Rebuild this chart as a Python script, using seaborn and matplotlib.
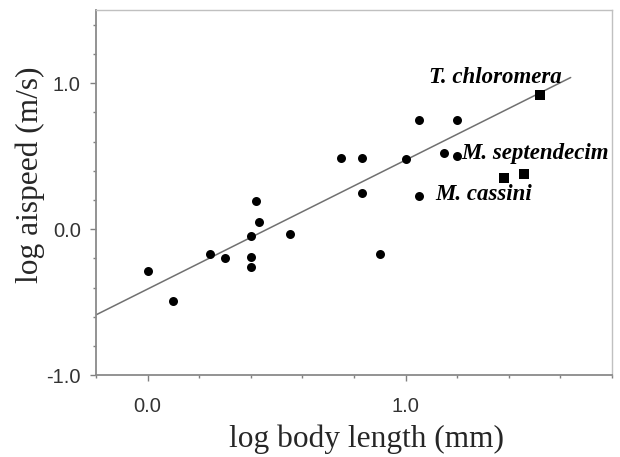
import numpy as np
import pandas as pd
import seaborn as sns
import matplotlib.pyplot as plt

# data
body_len = [0.00, 0.10, 0.24, 0.30, 0.40, 0.40, 0.40, 0.42, 0.43, 0.55,
            0.75, 0.83, 0.83, 0.90, 1.00, 1.05, 1.05, 1.20, 1.15, 1.20]
airspeed = [-0.29, -0.49, -0.17, -0.20, -0.05, -0.19, -0.26, 0.19, 0.05, -0.03,
            0.49, 0.49, 0.25, -0.17, 0.48, 0.75, 0.23, 0.75, 0.52, 0.50]

sq_len = [1.52, 1.38, 1.46]
sq_speed = [0.92, 0.35, 0.38]

# regression line
fit_slope = 0.883
fit_intercept = -0.41
fit_range = [-0.2, 1.64]

labels = ["T. chloromera", "M. septendecim", "M. cassini"]
label_x = [1.09, 1.215, 1.115]
label_y = [1.04, 0.52, 0.24]

df = pd.DataFrame({"x": body_len, "y": airspeed})
df_sq = pd.DataFrame({"x": sq_len, "y": sq_speed})

sns.set_style("white")

fig, ax = plt.subplots(figsize=(6.2, 4.57), dpi=100)
fig.subplots_adjust(left=0.155, right=0.987, top=0.978, bottom=0.179)

xl = np.array(fit_range)
ax.plot(xl, fit_intercept + fit_slope * xl, color="#707070", lw=1.1, zorder=1)

sns.scatterplot(data=df, x="x", y="y", ax=ax, color="black", s=42,
                marker="o", edgecolor="black", linewidth=0, zorder=3)
sns.scatterplot(data=df_sq, x="x", y="y", ax=ax, color="black", s=52,
                marker="s", edgecolor="black", linewidth=0, zorder=3)

for t, tx, ty in zip(labels, label_x, label_y):
    ax.text(tx, ty, t, family="Liberation Serif", style="italic", weight="bold",
            fontsize=16.5, va="center", ha="left", color="black", zorder=4)

ax.set_xlim(-0.2, 1.8)
ax.set_ylim(-1.0, 1.5)
ax.set_xticks([0.0, 1.0])
ax.set_yticks([-1.0, 0.0, 1.0])
ax.set_xticks(np.arange(-0.2, 1.81, 0.2), minor=True)
ax.set_yticks(np.arange(-1.0, 1.51, 0.2), minor=True)
ax.set_xticklabels(["0.0", "1.0"])
ax.set_yticklabels(["-1.0", "0.0", "1.0"])

ax.tick_params(axis="both", which="major", direction="out", length=4,
               width=1, color="#808080", labelsize=14.5, labelcolor="#333333",
               bottom=True, left=True)
ax.tick_params(axis="both", which="minor", direction="out", length=2.5,
               width=1, color="#808080", bottom=True, left=True)
ax.tick_params(axis="x", which="major", pad=12)
ax.tick_params(axis="y", which="major", pad=7)
for lab in ax.get_xticklabels() + ax.get_yticklabels():
    lab.set_family("Liberation Sans")

for side in ["left", "bottom"]:
    ax.spines[side].set_color("#8a8a8a")
    ax.spines[side].set_linewidth(1.3)
for side in ["top", "right"]:
    ax.spines[side].set_color("#c0c0c0")
    ax.spines[side].set_linewidth(1.0)

ax.set_xlabel("log body length (mm)", family="Liberation Serif", fontsize=22.6)
ax.set_ylabel("log aispeed (m/s)", family="Liberation Serif", fontsize=22.6)
ax.xaxis.set_label_coords(0.525, -0.135)
ax.yaxis.set_label_coords(-0.1, 0.55)

fig.savefig("out.png", dpi=100)
